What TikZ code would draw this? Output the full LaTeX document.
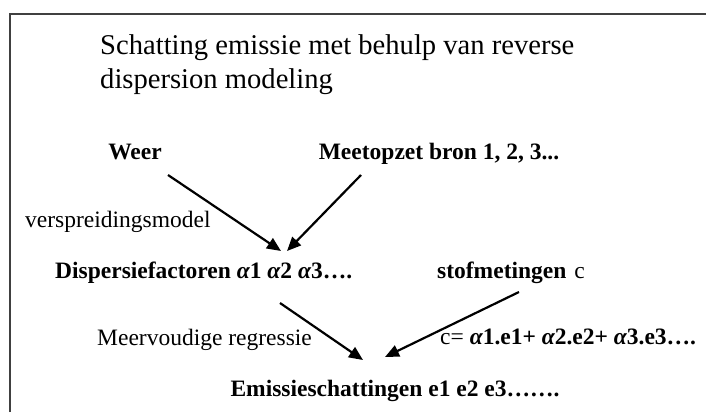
\documentclass[tikz,border=0pt]{standalone}
\usepackage{fontspec}
\setmainfont{Liberation Serif}
\usetikzlibrary{arrows.meta}

\newcommand{\alf}{{\itshape α}}

\tikzset{
	kop/.style={font=\fontsize{28.6}{35}\selectfont, inner sep=0pt},
	vet/.style={font=\fontsize{23.5}{28}\selectfont\bfseries, inner sep=0pt},
	gewoon/.style={font=\fontsize{23.5}{28}\selectfont, inner sep=0pt},
	pijl/.style={line width=2.2pt, -{Triangle[length=14pt,width=12pt]}}
}

\begin{document}
\begin{tikzpicture}[x=1pt, y=-1pt]
	\useasboundingbox (0,0) rectangle (706,412);
	\draw[line width=1.3pt, color=black!75] (10,412) -- (10,14) -- (706,14);

	\node[kop, anchor=base west] (titel1) at (100,55) {Schatting emissie met behulp van reverse};
	\node[kop, anchor=base west] (titel2) at (100,88) {dispersion modeling};

	\node[vet, anchor=base] (weer) at (135,159) {Weer};
	\node[vet, anchor=base] (meet) at (439,159) {Meetopzet bron 1, 2, 3...};
	\node[gewoon, anchor=base west] (versp) at (25,227) {verspreidingsmodel};
	\node[vet, anchor=base west] (disp) at (55,278) {Dispersiefactoren \alf1 \alf2 \alf3….};
	\node[vet, anchor=base west] (stof) at (437,278) {stofmetingen \mdseries\kern2pt c};
	\node[gewoon, anchor=base west] (meerv) at (97,345) {Meervoudige regressie};
	\node[vet, anchor=base west] (formule) at (440,344) {\mdseries c= \bfseries \alf1.e1+ \alf2.e2+ \alf3.e3….};
	\node[vet, anchor=base] (emis) at (395,396) {Emissieschattingen e1 e2 e3…….};

	% pijlen
	\coordinate (w) at (168,175);
	\coordinate (m) at (361,175);
	\coordinate (d1) at (281,251);
	\coordinate (d2) at (287,251);
	\coordinate (d) at (280,303);
	\coordinate (s) at (519,292);
	\coordinate (e1) at (363,360);
	\coordinate (e2) at (385,357);
	\foreach \a/\b in {w/d1, m/d2, d/e1, s/e2}
		\draw[pijl] (\a) -- (\b);
\end{tikzpicture}
\end{document}
